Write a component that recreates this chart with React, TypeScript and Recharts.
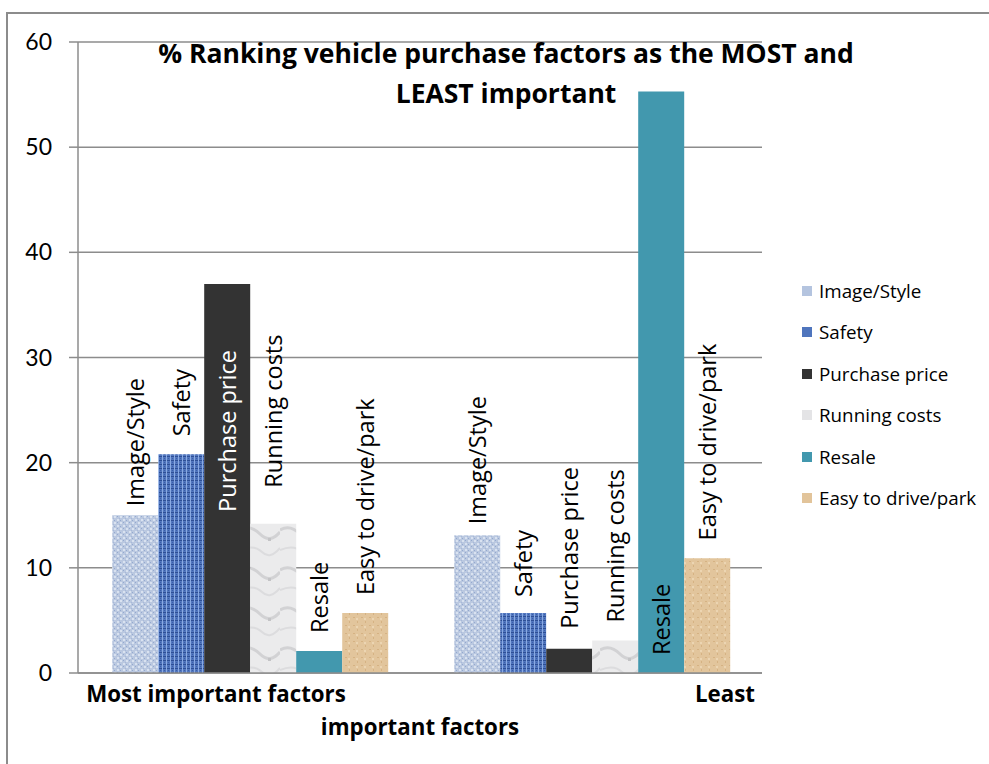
import React from "react";
import { BarChart, Bar, XAxis, YAxis, CartesianGrid } from "recharts";

const CATEGORIES = ["Most important factors", "Least important factors"];
const SERIES = ["Image/Style", "Safety", "Purchase price", "Running costs", "Resale", "Easy to drive/park"];
const MOST_VALUES = [15.0, 20.8, 37.0, 14.2, 2.1, 5.7];
const LEAST_VALUES = [13.1, 5.7, 2.3, 3.1, 55.3, 10.9];
const Y_TICKS = [0, 10, 20, 30, 40, 50, 60];

const FILLS = [
  "url(#texImage)",
  "url(#texSafety)",
  "#333333",
  "url(#texRunning)",
  "#4298ae",
  "url(#texEasy)",
];
const SWATCH = ["#b4c4df", "#4f75bd", "#333333", "#e4e4e6", "#4298ae", "#e2c49a"];

// label nudges (px relative to bar top) – Excel placed these by hand
const LABEL_NUDGE: number[][] = [
  [-9, -11],
  [-18, -16],
  [228, -20],
  [-36, -18],
  [-18, 0],
  [-18, -18],
];

const FONT = "'Open Sans', sans-serif";
const TICK_FONT = "Lato, 'Open Sans', sans-serif";

const data = CATEGORIES.map((c, ci) => {
  const row: Record<string, string | number> = { cat: c };
  SERIES.forEach((_, si) => {
    row[`s${si}`] = ci === 0 ? MOST_VALUES[si] : LEAST_VALUES[si];
  });
  return row;
});

const makeLabel = (si: number) => (props: any) => {
  const { x, y, width, height, index } = props;
  const cx = x + width / 2;
  let start = y + LABEL_NUDGE[si][index];
  let fill = "#000";
  // tall Resale bar: label sits inside near the base
  if (si === 4 && index === 1) start = y + height - 18;
  if (si === 2 && index === 0) fill = "#fff";
  return (
    <text
      x={cx}
      y={start}
      transform={`rotate(-90 ${cx} ${start})`}
      textAnchor="start"
      dominantBaseline="central"
      fontFamily={FONT}
      fontSize={23.5}
      fill={fill}
    >
      {SERIES[si]}
    </text>
  );
};

const CatTick = (props: any) => {
  const { x, y, index } = props;
  const style = { fontFamily: FONT, fontSize: 22.3, fontWeight: 700, fill: "#000" };
  if (index === 0) {
    return (
      <text x={x - 33} y={y + 29} textAnchor="middle" {...style}>
        Most important factors
      </text>
    );
  }
  return (
    <g>
      <text x={x + 164} y={y + 29} textAnchor="end" {...style}>
        Least
      </text>
      <text x={x - 171} y={y + 62} textAnchor="middle" {...style}>
        important factors
      </text>
    </g>
  );
};

export default function App() {
  return (
    <div
      style={{
        position: "absolute",
        left: 0,
        top: 0,
        width: 989,
        height: 764,
        overflow: "hidden",
        background: "#fff",
      }}
    >
      <div
        style={{
          position: "absolute",
          left: 6,
          top: 12,
          width: 1100,
          height: 900,
          borderTop: "2px solid #8c8c8c",
          borderLeft: "2px solid #8c8c8c",
        }}
      />
      <BarChart
        width={989}
        height={764}
        data={data}
        margin={{ top: 42, right: 227, bottom: 0, left: 0 }}
        barCategoryGap="10%"
        barGap={0}
        style={{ position: "absolute", left: 0, top: 0 }}
      >
        <defs>
          <pattern id="texImage" width="6" height="6" patternUnits="userSpaceOnUse">
            <rect width="6" height="6" fill="#bac8e0" />
            <rect x="0" y="0" width="2" height="2" fill="#d9e2f0" />
            <rect x="3" y="3" width="2" height="2" fill="#d9e2f0" />
            <rect x="3" y="0" width="1" height="1" fill="#94a9cf" />
            <rect x="0" y="4" width="1" height="1" fill="#94a9cf" />
            <rect x="5" y="2" width="1" height="1" fill="#a8b9d9" />
          </pattern>
          <pattern id="texSafety" width="4" height="4" patternUnits="userSpaceOnUse">
            <rect width="4" height="4" fill="#5277bf" />
            <rect x="0" y="0" width="4" height="1" fill="#2e4f95" />
            <rect x="2" y="0" width="1" height="4" fill="#8aaae2" />
            <rect x="0" y="2" width="1" height="1" fill="#3a5ea8" />
          </pattern>
          <pattern id="texRunning" width="40" height="40" patternUnits="userSpaceOnUse">
            <rect width="40" height="40" fill="#ebebec" />
            <path d="M0 10 Q10 4 20 14 T40 12" stroke="#d2d2d4" strokeWidth="3" fill="none" />
            <path d="M0 30 Q14 24 22 32 T40 28" stroke="#dcdcde" strokeWidth="2" fill="none" />
            <rect x="28" y="18" width="3" height="3" fill="#c4c4c6" />
          </pattern>
          <pattern id="texEasy" width="8" height="8" patternUnits="userSpaceOnUse">
            <rect width="8" height="8" fill="#e2c59c" />
            <rect x="1" y="1" width="2" height="1" fill="#d5b283" />
            <rect x="5" y="5" width="1" height="2" fill="#d5b283" />
            <rect x="4" y="2" width="2" height="2" fill="#ecd5b2" />
          </pattern>
        </defs>
        <CartesianGrid vertical={false} stroke="#8c8c8c" strokeWidth={1.5} />
        <XAxis
          dataKey="cat"
          height={91}
          axisLine={{ stroke: "#8c8c8c", strokeWidth: 1.5 }}
          tickLine={false}
          tickSize={0}
          tickMargin={0}
          tick={(p: any) => <CatTick {...p} />}
          interval={0}
        />
        <YAxis
          width={78}
          domain={[0, 60]}
          ticks={Y_TICKS}
          interval={0}
          axisLine={{ stroke: "#8c8c8c", strokeWidth: 1.5 }}
          tickLine={{ stroke: "#8c8c8c", strokeWidth: 1.5 }}
          tickSize={9}
          tickMargin={17}
          tick={{ fontFamily: TICK_FONT, fontSize: 23, fill: "#000" }}
        />
        {SERIES.map((s, si) => (
          <Bar
            key={s}
            dataKey={`s${si}`}
            name={s}
            fill={FILLS[si]}
            isAnimationActive={false}
            label={makeLabel(si)}
          />
        ))}
      </BarChart>
      <div
        style={{
          position: "absolute",
          left: 0,
          top: 33,
          width: 1012,
          textAlign: "center",
          fontFamily: FONT,
          fontWeight: 700,
          fontSize: 26.5,
          lineHeight: "40px",
          color: "#000",
        }}
      >
        % Ranking vehicle purchase factors as the MOST and
        <br />
        LEAST important
      </div>
      <div style={{ position: "absolute", left: 802, top: 270, fontFamily: FONT, fontSize: 18.8 }}>
        {SERIES.map((s, si) => (
          <div key={s} style={{ display: "flex", alignItems: "center", height: 41.5 }}>
            <span
              style={{
                display: "inline-block",
                width: 10,
                height: 10,
                background: SWATCH[si],
                marginRight: 7,
              }}
            />
            <span>{s}</span>
          </div>
        ))}
      </div>
    </div>
  );
}
